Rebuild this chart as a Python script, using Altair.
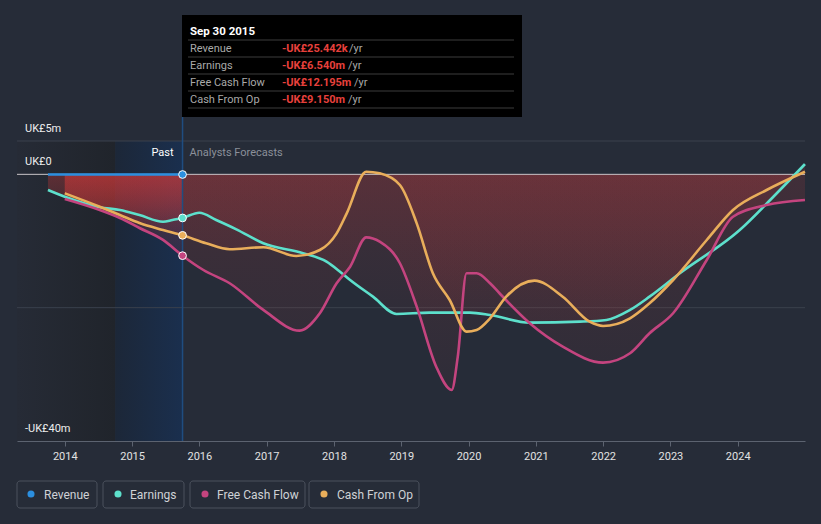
import altair as alt
import pandas as pd

# ---------------- data (UK£ m) ----------------
rev_years = [2013.75, 2014.0, 2014.5, 2015.0, 2015.5, 2015.75]
rev_vals = [-0.02, -0.02, -0.03, -0.03, -0.03, -0.025]

earn_years = [2013.75, 2014.0, 2014.52, 2014.82, 2015.11, 2015.46, 2015.6, 2015.75,
              2016.0, 2016.25, 2016.55, 2016.95, 2017.54, 2017.89, 2018.09, 2018.24,
              2018.58, 2018.93, 2019.42, 2020.02, 2020.32, 2020.91, 2021.65, 2022.05,
              2022.4, 2022.69, 2023.14, 2024.03, 2024.53, 2025.0]
earn_vals = [-2.36, -3.36, -4.95, -5.35, -6.10, -7.11, -6.85, -6.54,
             -5.76, -6.85, -8.25, -10.34, -11.84, -13.10, -14.60, -15.85,
             -18.35, -20.94, -20.75, -20.75, -21.10, -22.25, -22.10, -21.84,
             -20.34, -18.35, -14.84, -8.35, -3.36, 1.54]

cfo_years = [2014.0, 2014.52, 2014.82, 2015.11, 2015.46, 2015.75, 2016.1, 2016.45,
             2016.95, 2017.44, 2017.79, 2018.04, 2018.19, 2018.48, 2018.68, 2018.98,
             2019.23, 2019.47, 2019.72, 2019.97, 2020.12, 2020.32, 2020.56, 2020.98,
             2021.4, 2021.8, 2022.0, 2022.4, 2022.69, 2023.04, 2023.54, 2023.93,
             2024.43, 2025.0]
cfo_vals = [-2.85, -4.86, -6.10, -7.30, -8.35, -9.15, -10.34, -11.24,
            -10.94, -12.25, -11.35, -8.85, -5.85, 0.39, 0.15, -1.60,
            -7.35, -14.84, -18.85, -23.60, -23.34, -21.59, -18.35, -15.95,
            -18.35, -22.10, -22.74, -21.59, -19.34, -15.85, -9.85, -5.35,
            -2.35, 0.39]

fcf_years = [2014.0, 2014.52, 2014.82, 2015.11, 2015.46, 2015.75, 2016.06, 2016.45,
             2016.95, 2017.49, 2017.79, 2018.04, 2018.24, 2018.48, 2018.68, 2018.98,
             2019.23, 2019.52, 2019.75, 2019.84, 2019.97, 2020.12, 2020.32, 2020.46,
             2020.91, 2021.4, 2022.0, 2022.4, 2022.69, 2023.04, 2023.54, 2023.93,
             2024.43, 2025.0]
fcf_vals = [-3.70, -5.35, -6.55, -8.05, -9.84, -12.20, -14.35, -16.34,
            -20.34, -23.45, -20.84, -16.34, -13.85, -9.45, -10.10, -13.34,
            -19.85, -28.85, -32.34, -27.35, -14.84, -14.84, -16.34, -17.84,
            -22.34, -25.85, -28.25, -26.84, -23.84, -20.84, -12.85, -6.36,
            -4.60, -3.85]

series_names = ["Revenue", "Earnings", "Free Cash Flow", "Cash From Op"]
series_colors = ["#2b8fe0", "#5de0cc", "#c4447f", "#e9ae5b"]

x_ticks = [2014, 2015, 2016, 2017, 2018, 2019, 2020, 2021, 2022, 2023, 2024]
y_label_vals = [5, 0, -40]
y_label_text = ["UK£5m", "UK£0", "-UK£40m"]

tip_title = "Sep 30 2015"
tip_labels = ["Revenue", "Earnings", "Free Cash Flow", "Cash From Op"]
tip_values = ["-UK£25.442k", "-UK£6.540m", "-UK£12.195m", "-UK£9.150m"]

past_start, past_split, now_year = 2013.29, 2014.75, 2015.75

# ---------------- tables ----------------
def sdf(name, years, vals):
    return pd.DataFrame({"year": years, "value": vals, "series": name})

df = pd.concat([
    sdf("Revenue", rev_years, rev_vals),
    sdf("Earnings", earn_years, earn_vals),
    sdf("Free Cash Flow", fcf_years, fcf_vals),
    sdf("Cash From Op", cfo_years, cfo_vals),
], ignore_index=True)
neg = df[df.series != "Revenue"]
past_df = neg[neg.year <= now_year]
fc_df = neg[neg.year >= now_year]
now_df = df[df.year == now_year]

FONT = "Roboto"
BG = "#262c38"
xs = alt.Scale(domain=[past_start, 2025.0], nice=False, zero=False)
ys = alt.Scale(domain=[-40, 5], nice=False, zero=False)
xaxis = alt.Axis(values=x_ticks, format="d", grid=False, domainColor="#5c6370",
                 tickColor="#5c6370", tickSize=5, labelColor="#e2e2e2",
                 labelFontSize=11, labelFont=FONT, labelPadding=4, title=None,
                 labelFlush=False)
X = alt.X("year:Q", scale=xs, axis=xaxis)
Y = alt.Y("value:Q", scale=ys, axis=None, stack=None)
color = alt.Color("series:N", scale=alt.Scale(domain=series_names, range=series_colors), legend=None)

one = pd.DataFrame({"k": [0]})

# background bands
bands = pd.DataFrame({"start": [past_start, past_split], "end": [past_split, now_year]})
dark_band = alt.Chart(bands.iloc[[0]]).mark_rect(
    fill=alt.Gradient(gradient="linear", x1=0, x2=1, y1=0, y2=0,
                      stops=[alt.GradientStop(color="#262b36", offset=0),
                             alt.GradientStop(color="#20242b", offset=1)])
).encode(x=alt.X("start:Q", scale=xs, axis=xaxis), x2="end:Q", y=alt.value(0), y2=alt.value(300))
blue_band = alt.Chart(bands.iloc[[1]]).mark_rect(
    fill=alt.Gradient(gradient="linear", x1=0, x2=1, y1=0, y2=0,
                      stops=[alt.GradientStop(color="#1c2738", offset=0),
                             alt.GradientStop(color="#1a2f4e", offset=1)])
).encode(x=alt.X("start:Q", scale=xs, axis=xaxis), x2="end:Q", y=alt.value(0), y2=alt.value(300))

grid_df = pd.DataFrame({"value": [5, -20]})
grid = alt.Chart(grid_df).mark_rule(color="#3a404c", strokeWidth=1).encode(y=alt.Y("value:Q", scale=ys, axis=None))

past_grad = alt.Gradient(gradient="linear", x1=0, x2=0, y1=0, y2=1,
                         stops=[alt.GradientStop(color="rgba(215,58,58,0.33)", offset=0),
                                alt.GradientStop(color="rgba(215,58,58,0.10)", offset=1)])
fc_grad = alt.Gradient(gradient="linear", x1=0, x2=0, y1=0, y2=1,
                       stops=[alt.GradientStop(color="rgba(205,60,62,0.16)", offset=0),
                              alt.GradientStop(color="rgba(205,60,62,0.05)", offset=1)])

area_layers = []
for nm in ["Earnings", "Free Cash Flow", "Cash From Op"]:
    area_layers.append(alt.Chart(past_df[past_df.series == nm]).mark_area(
        interpolate="monotone", fill=past_grad).encode(x=X, y=Y, y2=alt.datum(0)))
    area_layers.append(alt.Chart(fc_df[fc_df.series == nm]).mark_area(
        interpolate="monotone", fill=fc_grad).encode(x=X, y=Y, y2=alt.datum(0)))

zero = alt.Chart(pd.DataFrame({"value": [0]})).mark_rule(color="#c9c4c8", strokeWidth=1).encode(
    y=alt.Y("value:Q", scale=ys, axis=None))

lines = alt.Chart(df).mark_line(interpolate="monotone", strokeWidth=2.6).encode(
    x=X, y=Y, color=color, detail="series:N")

now_rule = alt.Chart(one).mark_rule(color="#1f4d80", strokeWidth=1.5).encode(
    x=alt.datum(now_year, scale=xs), y=alt.value(-24), y2=alt.value(300))

dots = alt.Chart(now_df).mark_point(filled=True, size=60, stroke="white", strokeWidth=1,
                                    opacity=1).encode(
    x=X, y=Y, fill=alt.Fill("series:N", scale=alt.Scale(domain=series_names, range=series_colors), legend=None))

past_txt = alt.Chart(one).mark_text(text="Past", align="right", baseline="middle", dx=-9,
                                    font=FONT, fontSize=11, color="#ffffff").encode(
    x=alt.datum(now_year, scale=xs), y=alt.value(12))
fc_txt = alt.Chart(one).mark_text(text="Analysts Forecasts", align="left", baseline="middle", dx=7,
                                  font=FONT, fontSize=11, color="#8b909a").encode(
    x=alt.datum(now_year, scale=xs), y=alt.value(12))

ylab = alt.Chart(pd.DataFrame({"value": y_label_vals, "t": y_label_text})).mark_text(
    align="left", baseline="middle", dy=-12, font=FONT, fontSize=11, color="#eeeeee").encode(
    x=alt.value(8), y=alt.Y("value:Q", scale=ys, axis=None), text="t:N")

# tooltip box (pixel offsets from plot origin)
tip = [alt.Chart(one).mark_rect(fill="#000000").encode(
    x=alt.value(165), x2=alt.value(505), y=alt.value(-126), y2=alt.value(-24))]
tip.append(alt.Chart(one).mark_text(text=tip_title, align="left", baseline="middle", font=FONT,
                                    fontSize=11.5, fontWeight="bold", color="#ffffff").encode(
    x=alt.value(173), y=alt.value(-109.5)))
for yy in [-101, -84, -67, -50, -33]:
    tip.append(alt.Chart(one).mark_rule(color="#3c3c3c", strokeWidth=1).encode(
        x=alt.value(171), x2=alt.value(497), y=alt.value(yy)))
yr_x = [332, 331, 337, 331]
for i, (lab, val) in enumerate(zip(tip_labels, tip_values)):
    yy = -92.5 + 17 * i
    tip.append(alt.Chart(one).mark_text(text=lab, align="left", baseline="middle", font=FONT,
                                        fontSize=11, color="#a9a9a9").encode(x=alt.value(173), y=alt.value(yy)))
    tip.append(alt.Chart(one).mark_text(text=val, align="left", baseline="middle", font=FONT,
                                        fontSize=11, fontWeight="bold", color="#e8403c").encode(x=alt.value(265), y=alt.value(yy)))
    tip.append(alt.Chart(one).mark_text(text="/yr", align="left", baseline="middle", font=FONT,
                                        fontSize=11, color="#a9a9a9").encode(x=alt.value(yr_x[i]), y=alt.value(yy)))

# legend boxes
leg = []
box_x = [(0, 80), (86, 167), (173, 288), (292, 402)]
dot_x = [14, 101, 188, 307]
txt_x = [27, 113, 200, 320]
for i, nm in enumerate(series_names):
    leg.append(alt.Chart(one).mark_rect(fill=BG, stroke="#4b515d", strokeWidth=1, cornerRadius=3).encode(
        x=alt.value(box_x[i][0]), x2=alt.value(box_x[i][1]), y=alt.value(340), y2=alt.value(367)))
    leg.append(alt.Chart(one).mark_circle(size=50, color=series_colors[i], opacity=1).encode(
        x=alt.value(dot_x[i]), y=alt.value(353)))
    leg.append(alt.Chart(one).mark_text(text=nm, align="left", baseline="middle", font=FONT,
                                        fontSize=12, color="#cfd2d6").encode(
        x=alt.value(txt_x[i]), y=alt.value(353.5)))

chart = alt.layer(
    dark_band, blue_band, grid, *area_layers, zero, lines, now_rule, dots,
    past_txt, fc_txt, ylab, *tip, *leg
).properties(
    width=788, height=300,
    padding={"left": 9, "top": 133, "right": 8, "bottom": 70},
    autosize=alt.AutoSizeParams(type="none"),
    background=BG,
).configure_view(stroke=None)

# page template with the same dark page background as the chart
save_kwargs = {}
try:
    import jinja2
    save_kwargs["template"] = jinja2.Template("""<!DOCTYPE html>
<html>
<head>
<style>
html, body { background: #262c38; }
#{{ output_div }}.vega-embed { width: 100%; display: flex; }
</style>
<script type="text/javascript" src="{{ base_url }}/vega@{{ vega_version }}"></script>
<script type="text/javascript" src="{{ base_url }}/vega-lite@{{ vegalite_version }}"></script>
<script type="text/javascript" src="{{ base_url }}/vega-embed@{{ vegaembed_version }}"></script>
</head>
<body>
<div id="{{ output_div }}"></div>
<script>
(function(vegaEmbed) {
  var spec = {{ spec }};
  var embedOpt = {{ embed_options }};
  vegaEmbed("#{{ output_div }}", spec, embedOpt).catch(function(e) {
    document.getElementById("{{ output_div }}").innerText = e.message;
  });
})(vegaEmbed);
</script>
</body>
</html>""")
except Exception:
    save_kwargs = {}

try:
    chart.save("out.html", embed_options={"renderer": "svg", "actions": False}, **save_kwargs)
except Exception:
    chart.save("out.html", embed_options={"renderer": "svg", "actions": False})
